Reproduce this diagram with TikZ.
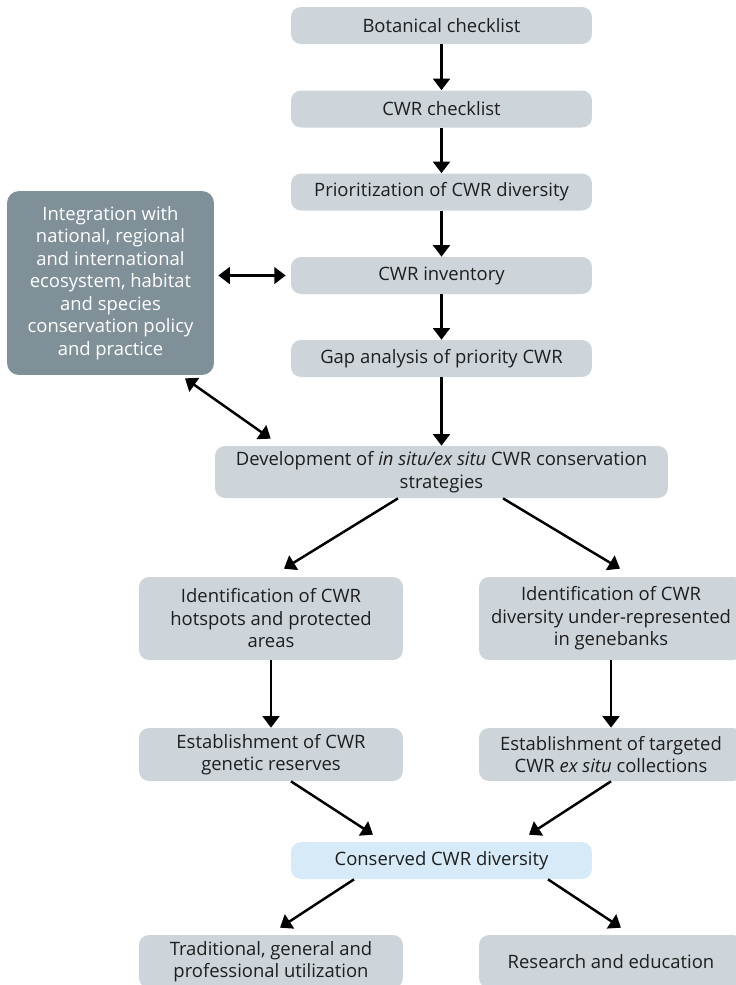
\documentclass[tikz,border=0pt]{standalone}
\usepackage{fontspec}
\setmainfont{Open Sans}
\usetikzlibrary{arrows.meta}

\definecolor{BoxGrey}{RGB}{205,213,219}
\definecolor{BoxDark}{RGB}{128,144,152}
\definecolor{BoxBlue}{RGB}{214,234,248}
\definecolor{TextDark}{RGB}{30,30,30}

\begin{document}
\begin{tikzpicture}[x=0.02cm,y=-0.02cm,
    box/.style={fill=BoxGrey,rounded corners=0.2cm,align=center,inner sep=2pt,
      text=TextDark,font=\fontsize{10.5}{12.8}\selectfont},
    mainbox/.style={box,minimum width=6.02cm,minimum height=0.74cm},
    sidebox/.style={box,minimum width=5.28cm},
    arr/.style={-{Triangle[width=9.5pt,length=6.5pt]},line width=1.4pt},
    biarr/.style={{Triangle[width=9.5pt,length=6.5pt]}-{Triangle[width=9.5pt,length=6.5pt]},line width=1.4pt}]

    \useasboundingbox (0,0) rectangle (735,985);

    % main column
    \node[mainbox] (BotCheck) at (441.5,25.5) {Botanical checklist};
    \node[mainbox] (CwrCheck) at (441.5,109) {CWR checklist};
    \node[mainbox] (PrioDiv) at (441.5,192) {Prioritization of CWR diversity};
    \node[mainbox] (CwrInv) at (441.5,275.5) {CWR inventory};
    \node[mainbox] (GapAna) at (441.5,358.5) {Gap analysis of priority CWR};
    \node[box,minimum width=9.06cm,minimum height=1.04cm] (DevStrat) at (441.5,472)
    {Development of \textit{in situ/ex situ} CWR conservation\\strategies};

    \node[box,fill=BoxDark,text=white,rounded corners=0.24cm,
      minimum width=4.14cm,minimum height=3.68cm] (IntegPol) at (110.5,283)
    {Integration with\\national, regional\\and international\\ecosystem, habitat\\and species\\conservation policy\\and practice};

    % two branches
    \node[sidebox,minimum height=1.66cm] (IdHotspots) at (271,618.5)
    {Identification of CWR\\hotspots and protected\\areas};
    \node[sidebox,minimum height=1.66cm] (IdGenebank) at (611,618.5)
    {Identification of CWR\\diversity under-represented\\in genebanks};
    \node[sidebox,minimum height=1.06cm] (EstReserves) at (271,754.5)
    {Establishment of CWR\\genetic reserves};
    \node[sidebox,minimum height=1.06cm] (EstExSitu) at (611,754.5)
    {Establishment of targeted\\CWR \textit{ex situ} collections};

    \node[mainbox,fill=BoxBlue] (ConsDiv) at (441.5,860.5) {Conserved CWR diversity};

    \node[sidebox,minimum height=1.06cm] (TradUse) at (271,961.5)
    {Traditional, general and\\professional utilization};
    \node[sidebox,minimum height=1.06cm] (ResEdu) at (611,961.5)
    {Research and education};

    % connectors
    \draw[arr] (BotCheck) -- (CwrCheck);
    \draw[arr] (CwrCheck) -- (PrioDiv);
    \draw[arr] (PrioDiv) -- (CwrInv);
    \draw[arr] (CwrInv) -- (GapAna);
    \draw[arr] (GapAna) -- (DevStrat);

    \draw[biarr] ([xshift=0.08cm]IntegPol.east |- CwrInv.west) -- ([xshift=-0.1cm]CwrInv.west);
    \draw[biarr] ([xshift=1.49cm,yshift=-0.06cm]IntegPol.south)
    -- ([xshift=1.12cm,yshift=0.14cm]DevStrat.north west);

    \draw[arr] ([xshift=-0.87cm]DevStrat.south) -- ([xshift=0.26cm,yshift=0.16cm]IdHotspots.north);
    \draw[arr] ([xshift=1.23cm]DevStrat.south) -- ([xshift=0.18cm,yshift=0.16cm]IdGenebank.north);

    \draw[arr] (IdHotspots) -- (EstReserves);
    \draw[arr] (IdGenebank) -- (EstExSitu);

    \draw[arr] ([xshift=0.4cm]EstReserves.south) -- ([xshift=-1.37cm,yshift=0.14cm]ConsDiv.north);
    \draw[arr] (EstExSitu.south) -- ([xshift=1.75cm,yshift=0.14cm]ConsDiv.north);

    \draw[arr] ([xshift=-1.75cm]ConsDiv.south) -- ([xshift=0.18cm,yshift=0.14cm]TradUse.north);
    \draw[arr] ([xshift=2.13cm]ConsDiv.south) -- ([xshift=0.2cm,yshift=0.14cm]ResEdu.north);

\end{tikzpicture}
\end{document}
